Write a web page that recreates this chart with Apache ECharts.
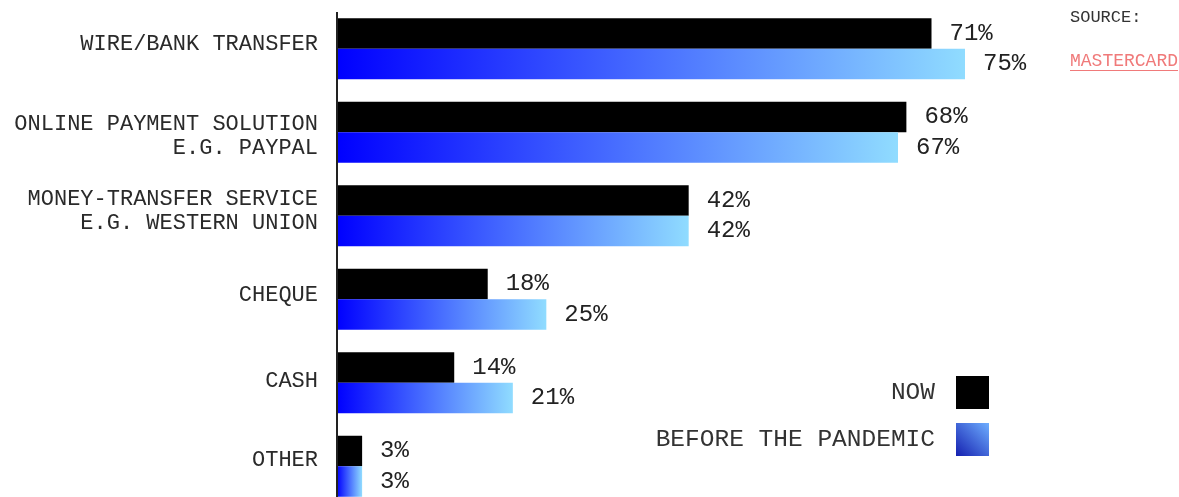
<!DOCTYPE html>
<html>
<head>
<meta charset="utf-8">
<script src="https://cdn.jsdelivr.net/npm/echarts@6/dist/echarts.min.js"></script>
<style>html,body{margin:0;padding:0;background:#fff;overflow:hidden;width:1179px;height:497px}#c{width:1179px;height:512px}</style>
</head>
<body>
<div id="c"></div>
<script>
const categories = ['WIRE/BANK TRANSFER', 'ONLINE PAYMENT SOLUTION\nE.G. PAYPAL', 'MONEY-TRANSFER SERVICE\nE.G. WESTERN UNION', 'CHEQUE', 'CASH', 'OTHER'];
const nowValues = [71, 68, 42, 18, 14, 3];
const beforeValues = [75, 67, 42, 25, 21, 3];
const seriesNames = ['NOW', 'BEFORE THE PANDEMIC'];
// vertical nudge of each category label in px (negative = up)
const labelNudge = [-5, 4, -4.5, -4, -2, -6];
const FONT = '"Liberation Mono", "DejaVu Sans Mono", monospace';

const chart = echarts.init(document.getElementById('c'));
const barGrad = new echarts.graphic.LinearGradient(0, 0, 1, 0, [
  {offset: 0, color: '#0000ff'}, {offset: 1, color: '#90dcff'}
]);
const legendGrad = new echarts.graphic.LinearGradient(0, 1, 1, 0, [
  {offset: 0, color: '#1520b0'}, {offset: 1, color: '#6eaeff'}
]);
const catLabelData = categories.map((c, i) => ({
  value: [0, i], name: c, label: {offset: [0, labelNudge[i]]}
}));
const labelCfg = {show: true, position: 'right', distance: 18, formatter: '{c}%', color: '#222', fontFamily: FONT, fontSize: 24};
chart.setOption({
  animation: false,
  grid: {left: 337, width: 628, top: 7, height: 501, containLabel: false},
  xAxis: {type: 'value', min: 0, max: 75, show: false},
  yAxis: {
    type: 'category', data: categories, inverse: true,
    axisLine: {show: false}, axisTick: {show: false}, axisLabel: {show: false}
  },
  legend: {
    orient: 'vertical', right: 190, top: 376, padding: 0, align: 'right', itemWidth: 33, itemHeight: 33, itemGap: 14,
    icon: 'rect',
    textStyle: {color: '#333', fontFamily: FONT, fontSize: 24.5, padding: [0, 16, 0, 0]},
    data: [{name: seriesNames[0], itemStyle: {color: '#000'}}, {name: seriesNames[1], itemStyle: {color: legendGrad}}]
  },
  series: [
    {name: seriesNames[0], type: 'bar', data: nowValues, barWidth: 30.5, barGap: '0%', itemStyle: {color: '#000'}, label: labelCfg},
    {name: seriesNames[1], type: 'bar', data: beforeValues, barWidth: 30.5, barGap: '0%', itemStyle: {color: barGrad}, label: labelCfg},
    {name: 'cats', type: 'scatter', data: catLabelData, symbolSize: 0, silent: true, clip: false,
     itemStyle: {opacity: 1},
     label: {show: true, position: 'left', distance: 19, formatter: p => p.name, color: '#2a2a2a',
             fontFamily: FONT, fontSize: 22, lineHeight: 24, align: 'right', verticalAlign: 'middle'}}
  ],
  graphic: [
    {type: 'line', shape: {x1: 337, y1: 12, x2: 337, y2: 512}, style: {stroke: '#222', lineWidth: 2}, z: 10},
    {type: 'text', left: 1070, top: 9, style: {text: 'SOURCE:', font: '17px ' + FONT, fill: '#333'}},
    {type: 'text', left: 1070, top: 52, style: {text: 'MASTERCARD', font: '18px ' + FONT, fill: '#f07a7a'}},
    {type: 'line', shape: {x1: 1070, y1: 70.5, x2: 1178, y2: 70.5}, style: {stroke: '#f07a7a', lineWidth: 1}}
  ]
});
</script>
</body>
</html>
